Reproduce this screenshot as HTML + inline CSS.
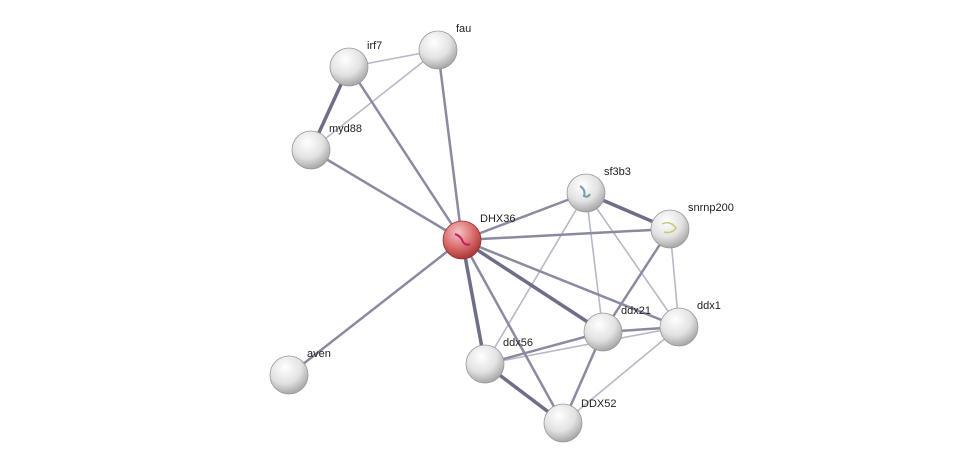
<!DOCTYPE html>
<html><head><meta charset="utf-8"><style>html,body{margin:0;padding:0;background:#fff}svg{display:block}</style></head>
<body>
<svg width="975" height="469" viewBox="0 0 975 469" xmlns="http://www.w3.org/2000/svg">
<defs>
<radialGradient id="g" cx="40%" cy="30%" r="70%">
<stop offset="0" stop-color="#ffffff"/><stop offset="0.6" stop-color="#e2e2e2"/><stop offset="1" stop-color="#a8a8a8"/>
</radialGradient>
<radialGradient id="r" cx="40%" cy="30%" r="70%">
<stop offset="0" stop-color="#f6c4c4"/><stop offset="0.6" stop-color="#d86a6a"/><stop offset="1" stop-color="#a83838"/>
</radialGradient>
</defs>
<g stroke-linecap="round">
<g stroke="#b8b8c8" stroke-width="1.6">
<line x1="349" y1="67" x2="438" y2="50"/>
<line x1="438" y1="50" x2="311" y2="150"/>
<line x1="586" y1="193" x2="603" y2="332"/>
<line x1="586" y1="193" x2="485" y2="364"/>
<line x1="670" y1="229" x2="679" y2="327"/>
<line x1="679" y1="327" x2="485" y2="364"/>
<line x1="679" y1="327" x2="563" y2="423"/>
<line x1="586" y1="193" x2="679" y2="327"/>
</g>
<g stroke="#8a8aa0" stroke-width="2.5">
<line x1="349" y1="67" x2="462" y2="240"/>
<line x1="438" y1="50" x2="462" y2="240"/>
<line x1="311" y1="150" x2="462" y2="240"/>
<line x1="462" y1="240" x2="586" y2="193"/>
<line x1="462" y1="240" x2="670" y2="229"/>
<line x1="462" y1="240" x2="563" y2="423"/>
<line x1="462" y1="240" x2="289" y2="375"/>
<line x1="462" y1="240" x2="679" y2="327"/>
<line x1="670" y1="229" x2="603" y2="332"/>
<line x1="603" y1="332" x2="679" y2="327"/>
<line x1="603" y1="332" x2="485" y2="364"/>
<line x1="603" y1="332" x2="563" y2="423"/>
</g>
<g stroke="#6e6e88" stroke-width="3.5">
<line x1="349" y1="67" x2="311" y2="150"/>
<line x1="462" y1="240" x2="603" y2="332"/>
<line x1="462" y1="240" x2="485" y2="364"/>
<line x1="586" y1="193" x2="670" y2="229"/>
<line x1="485" y1="364" x2="563" y2="423"/>
</g>
</g>
<g stroke="#999" stroke-width="0.8">
<circle cx="349" cy="67" r="19" fill="url(#g)"/>
<circle cx="438" cy="50" r="19" fill="url(#g)"/>
<circle cx="311" cy="150" r="19" fill="url(#g)"/>
<circle cx="586" cy="193" r="19" fill="url(#g)"/>
<circle cx="670" cy="229" r="19" fill="url(#g)"/>
<circle cx="679" cy="327" r="19" fill="url(#g)"/>
<circle cx="603" cy="332" r="19" fill="url(#g)"/>
<circle cx="485" cy="364" r="19" fill="url(#g)"/>
<circle cx="563" cy="423" r="19" fill="url(#g)"/>
<circle cx="289" cy="375" r="19" fill="url(#g)"/>
<circle cx="462" cy="240" r="19" fill="url(#r)" stroke="#a03030"/>
</g>
<path d="M455 234 q6 2 8 8 q3 4 7 2" stroke="#c0206a" stroke-width="2" fill="none"/>
<path d="M580 186 q6 4 4 10 q4 2 6 -2" stroke="#7a9aa8" stroke-width="2" fill="none"/>
<path d="M662 224 q8 -4 14 4 q-4 6 -12 4" stroke="#c8c870" stroke-width="1.5" fill="none"/>
<g font-family="Liberation Sans, sans-serif" font-size="11" fill="#222">
<text x="367" y="49">irf7</text>
<text x="456" y="32">fau</text>
<text x="329" y="132">myd88</text>
<text x="480" y="222">DHX36</text>
<text x="604" y="175">sf3b3</text>
<text x="688" y="211">snrnp200</text>
<text x="697" y="309">ddx1</text>
<text x="621" y="314">ddx21</text>
<text x="503" y="346">ddx56</text>
<text x="581" y="407">DDX52</text>
<text x="307" y="357">aven</text>
</g>
</svg>
</body></html>
